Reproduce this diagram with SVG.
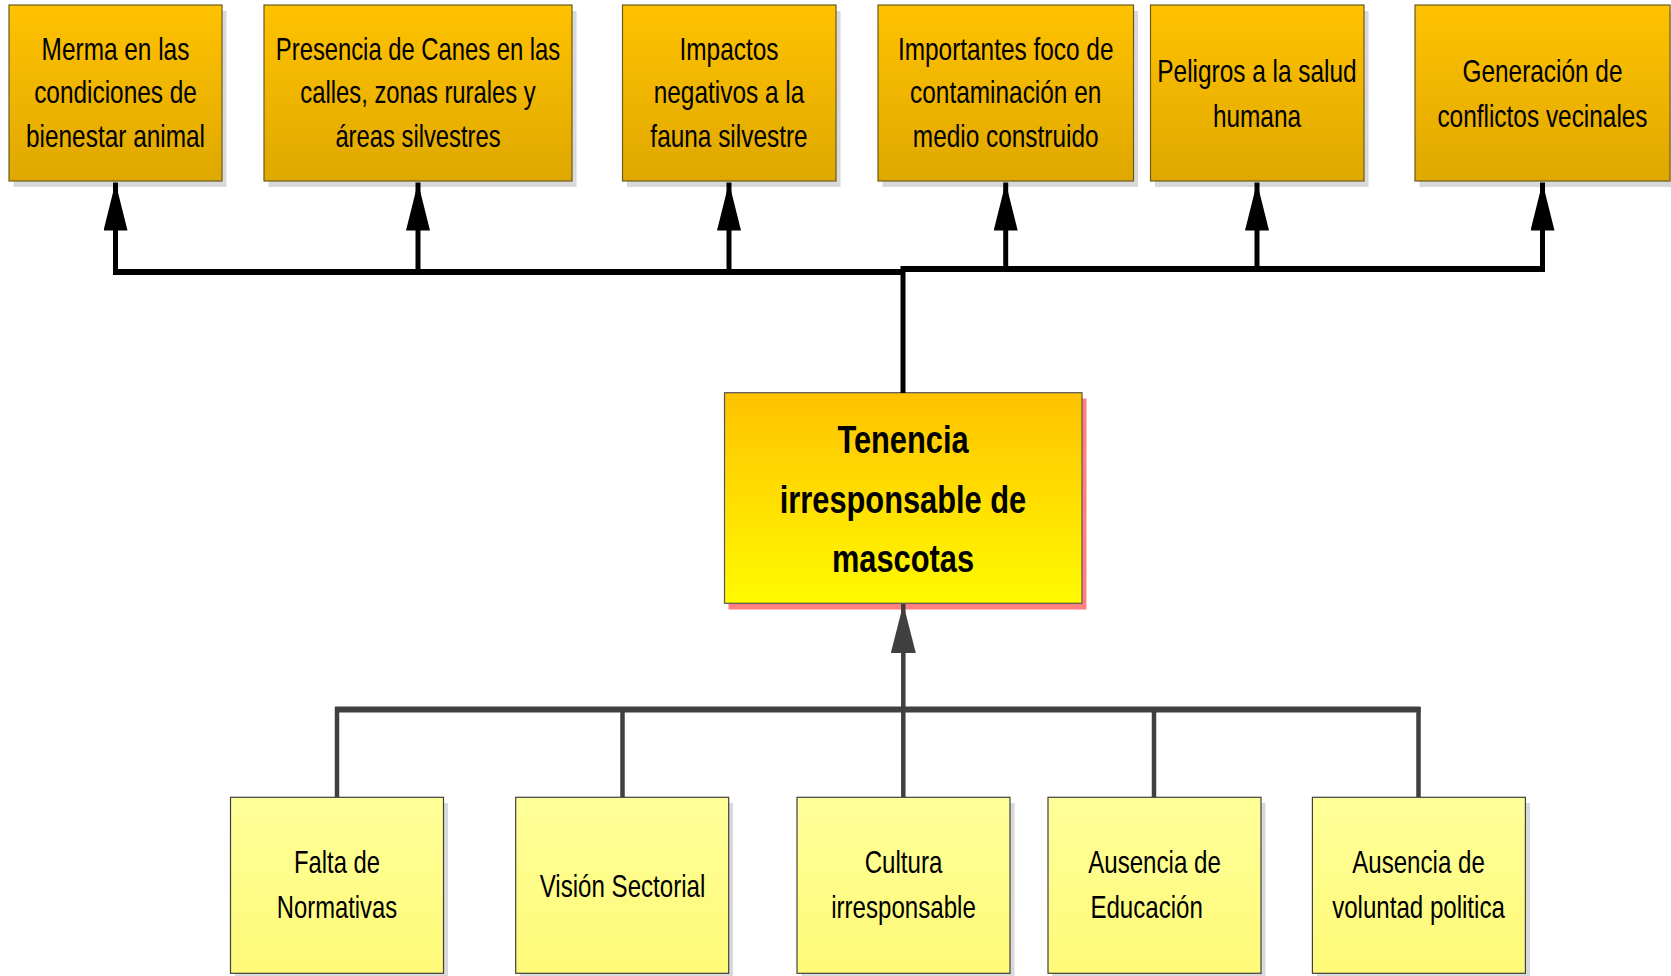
<svg xmlns="http://www.w3.org/2000/svg" width="1671" height="976" viewBox="0 0 1671 976">
<defs>
<linearGradient id="gTop" x1="0" y1="0" x2="0" y2="1"><stop offset="0" stop-color="#FFC200"/><stop offset="1" stop-color="#DFA800"/></linearGradient>
<linearGradient id="gMain" x1="0" y1="0" x2="0" y2="1"><stop offset="0" stop-color="#FFC200"/><stop offset="1" stop-color="#FFFA00"/></linearGradient>
<linearGradient id="gBot" x1="0" y1="0" x2="0" y2="1"><stop offset="0" stop-color="#FFFF99"/><stop offset="1" stop-color="#FFFA78"/></linearGradient>
<marker id="ab" markerUnits="userSpaceOnUse" markerWidth="48" markerHeight="24" refX="48" refY="12" orient="auto"><path d="M0,0 L48,12 L0,24 Z" fill="#000"/></marker>
<marker id="ag" markerUnits="userSpaceOnUse" markerWidth="49" markerHeight="25" refX="49" refY="12.5" orient="auto"><path d="M0,0 L49,12.5 L0,25 Z" fill="#404040"/></marker>
<style>
.sh{fill:#D9D9D9}
.shp{fill:#FF8080}
.top{fill:url(#gTop);stroke:#6B5A1E;stroke-width:1.2}
.main{fill:url(#gMain);stroke:#555;stroke-width:1.2}
.bot{fill:url(#gBot);stroke:#404040;stroke-width:1.2}
.t{font-family:"Liberation Sans",Arial,sans-serif;font-size:30.5px;fill:#000;text-anchor:middle}
.tb{font-family:"Liberation Sans",Arial,sans-serif;font-size:39px;font-weight:bold;fill:#000;text-anchor:middle}
.cb{fill:none;stroke:#000;stroke-width:5}
.cbh{fill:none;stroke:#000;stroke-width:6}
.cg{fill:none;stroke:#404040;stroke-width:4.5}
.cgh{fill:none;stroke:#404040;stroke-width:6}
</style>
</defs>
<rect width="1671" height="976" fill="#fff"/>

<g id="n1">
<rect class="sh" x="13.5" y="11" width="213" height="176"/>
<rect class="top" x="9" y="5" width="213" height="176"/>
<g transform="translate(115.5 0) scale(0.8 1)"><text class="t" x="0" y="60">Merma en las</text><text class="t" x="0" y="103.5">condiciones de</text><text class="t" x="0" y="147.3">bienestar animal</text></g>
</g>
<g id="n2">
<rect class="sh" x="268.5" y="11" width="308" height="176"/>
<rect class="top" x="264" y="5" width="308" height="176"/>
<g transform="translate(418 0) scale(0.78 1)"><text class="t" x="0" y="60">Presencia de Canes en las</text><text class="t" x="0" y="103.5">calles, zonas rurales y</text><text class="t" x="0" y="147.3">áreas silvestres</text></g>
</g>
<g id="n3">
<rect class="sh" x="627" y="11" width="213.5" height="176"/>
<rect class="top" x="622.5" y="5" width="213.5" height="176"/>
<g transform="translate(729 0) scale(0.8 1)"><text class="t" x="0" y="60">Impactos</text><text class="t" x="0" y="103.5">negativos a la</text><text class="t" x="0" y="147.3">fauna silvestre</text></g>
</g>
<g id="n4">
<rect class="sh" x="882.5" y="11" width="255.5" height="176"/>
<rect class="top" x="878" y="5" width="255.5" height="176"/>
<g transform="translate(1005.7 0) scale(0.8 1)"><text class="t" x="0" y="60">Importantes foco de</text><text class="t" x="0" y="103.5">contaminación en</text><text class="t" x="0" y="147.3">medio construido</text></g>
</g>
<g id="n5">
<rect class="sh" x="1155" y="11" width="213.5" height="176"/>
<rect class="top" x="1150.5" y="5" width="213.5" height="176"/>
<g transform="translate(1257 0) scale(0.8 1)"><text class="t" x="0" y="81.7">Peligros a la salud</text><text class="t" x="0" y="126.7">humana</text></g>
</g>
<g id="n6">
<rect class="sh" x="1419.5" y="11" width="256" height="176"/>
<rect class="top" x="1415" y="5" width="255" height="176"/>
<g transform="translate(1542.5 0) scale(0.8 1)"><text class="t" x="0" y="81.7">Generación de</text><text class="t" x="0" y="126.7">conflictos vecinales</text></g>
</g>

<g id="main">
<rect class="shp" x="728.5" y="398.5" width="358" height="211"/>
<rect class="main" x="724.5" y="392.7" width="357.5" height="210.6"/>
<g transform="translate(903 0) scale(0.79 1)"><text class="tb" x="0" y="453">Tenencia</text><text class="tb" x="0" y="513">irresponsable de</text><text class="tb" x="0" y="572">mascotas</text></g>
</g>

<g id="b1">
<rect class="sh" x="235" y="803" width="213" height="176"/>
<rect class="bot" x="230.5" y="797.3" width="213" height="176"/>
<g transform="translate(337 0) scale(0.78 1)"><text class="t" x="0" y="873.3">Falta de</text><text class="t" x="0" y="918.3">Normativas</text></g>
</g>
<g id="b2">
<rect class="sh" x="520" y="803" width="213" height="176"/>
<rect class="bot" x="515.7" y="797.3" width="213" height="176"/>
<g transform="translate(622.5 0) scale(0.79 1)"><text class="t" x="0" y="896.7">Visión Sectorial</text></g>
</g>
<g id="b3">
<rect class="sh" x="801.5" y="803" width="213" height="176"/>
<rect class="bot" x="797" y="797.3" width="213" height="176"/>
<g transform="translate(903.5 0) scale(0.79 1)"><text class="t" x="0" y="873.3">Cultura</text><text class="t" x="0" y="918.3">irresponsable</text></g>
</g>
<g id="b4">
<rect class="sh" x="1052.5" y="803" width="213" height="176"/>
<rect class="bot" x="1048" y="797.3" width="213" height="176"/>
<g transform="translate(1154.5 0) scale(0.79 1)"><text class="t" x="0" y="873.3">Ausencia de</text><text class="t" x="-10" y="918.3">Educación</text></g>
</g>
<g id="b5">
<rect class="sh" x="1317" y="803" width="213" height="176"/>
<rect class="bot" x="1312.4" y="797.3" width="213" height="176"/>
<g transform="translate(1418.5 0) scale(0.79 1)"><text class="t" x="0" y="873.3">Ausencia de</text><text class="t" x="0" y="918.3">voluntad politica</text></g>
</g>

<g id="connectors">
<path class="cbh" d="M113 272 H903"/>
<path class="cbh" d="M903 269 H1545"/>
<path class="cb" d="M903 266 V393"/>
<path class="cb" d="M115.5 274.5 V182.5" marker-end="url(#ab)"/>
<path class="cb" d="M418 272 V182.5" marker-end="url(#ab)"/>
<path class="cb" d="M729 272 V182.5" marker-end="url(#ab)"/>
<path class="cb" d="M1005.7 269 V182.5" marker-end="url(#ab)"/>
<path class="cb" d="M1257 269 V182.5" marker-end="url(#ab)"/>
<path class="cb" d="M1542.5 271.5 V182.5" marker-end="url(#ab)"/>
<path class="cgh" d="M335 709.5 H1420.5"/>
<path class="cg" d="M337 707 V797"/>
<path class="cg" d="M622.5 709 V797"/>
<path class="cg" d="M1154 709 V797"/>
<path class="cg" d="M1418.5 707 V797"/>
<path class="cg" d="M903.3 797 V604" marker-end="url(#ag)"/>
</g>
</svg>
